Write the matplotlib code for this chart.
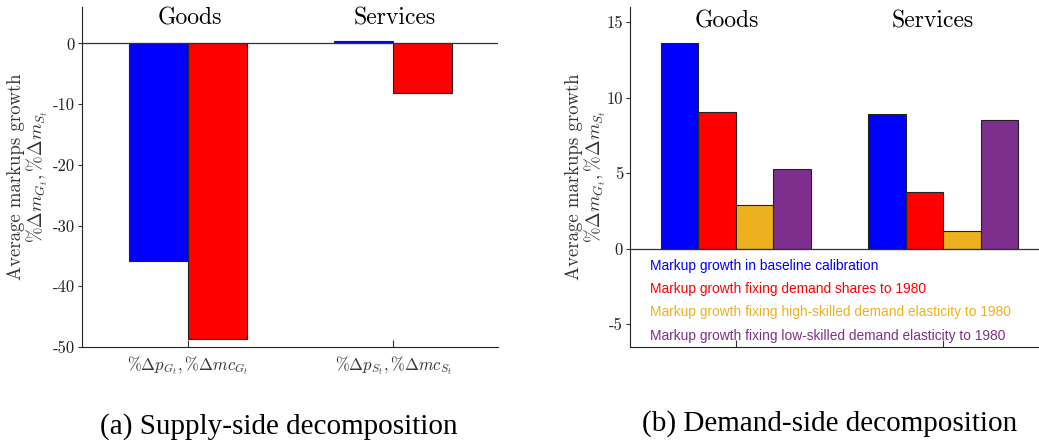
import numpy as np
import matplotlib
matplotlib.use('Agg')
from matplotlib import pyplot as plt

plt.rcParams['font.family'] = 'cmr10'
plt.rcParams['mathtext.fontset'] = 'cm'
plt.rcParams['axes.unicode_minus'] = False
plt.rcParams['axes.formatter.use_mathtext'] = False

# panel (a): supply side
sectors = ['Goods', 'Services']
supply_ticks = [r'$\%\Delta p_{G_t}, \%\Delta mc_{G_t}$', r'$\%\Delta p_{S_t}, \%\Delta mc_{S_t}$']
supply_price = [-35.9, 0.4]
supply_mc = [-48.6, -8.2]

# panel (b): demand side
demand_labels = ['Markup growth in baseline calibration',
                 'Markup growth fixing demand shares to 1980',
                 'Markup growth fixing high-skilled demand elasticity to 1980',
                 'Markup growth fixing low-skilled demand elasticity to 1980']
baseline = [13.6, 8.93]
fix_shares = [9.08, 3.73]
fix_high = [2.87, 1.17]
fix_low = [5.28, 8.53]

colors = ['#0000ff', '#ff0000', '#edb120', '#7e2f8e']

W, H = 1039, 445
fig = plt.figure(figsize=(W / 100, H / 100), dpi=100)

ax1 = fig.add_axes([82 / W, 1 - 347 / H, 416 / W, 340 / H])
ax2 = fig.add_axes([630 / W, 1 - 347 / H, 417 / W, 340 / H])

x = np.arange(1, len(sectors) + 1)
ylab = 'Average markups growth\n' + r'$\%\Delta m_{G_t}, \%\Delta m_{S_t}$'

# left
w1 = 0.288
ax1.bar(x - w1 / 2, supply_price, w1, color=colors[0], edgecolor='#222222', linewidth=0.8, zorder=3)
ax1.bar(x + w1 / 2, supply_mc, w1, color=colors[1], edgecolor='#222222', linewidth=0.8, zorder=3)
ax1.set_xlim(0.483, 2.512)
ax1.set_ylim(-50, 6)
ax1.set_yticks([0, -10, -20, -30, -40, -50])
ax1.set_xticks(x)
ax1.set_xticklabels(supply_ticks, fontsize=12, color='#333333')
for t, xx in zip(sectors, x):
    ax1.text(xx + 0.01, 0.965, t, transform=ax1.get_xaxis_transform(), ha='center', va='center', fontsize=17)
ax1.set_ylabel(ylab, fontsize=13.5, color='#333333', linespacing=0.95)
ax1.yaxis.set_label_coords(-0.077, 0.5)

# right
w2 = 0.181
series = [baseline, fix_shares, fix_high, fix_low]
for i, (vals, c, lab) in enumerate(zip(series, colors, demand_labels)):
    ax2.bar(x + (i - 1.5) * w2, vals, w2, color=c, edgecolor='#222222', linewidth=0.8, label=lab, zorder=3)
ax2.set_xlim(0.489, 2.5)
ax2.set_ylim(-6.5, 16)
ax2.set_yticks([15, 10, 5, 0, -5])
ax2.set_xticks(x)
ax2.set_xticklabels([])
for t, xx in zip(sectors, [0.957, 1.947]):
    ax2.text(xx, 0.958, t, transform=ax2.get_xaxis_transform(), ha='center', va='center', fontsize=17)
ax2.set_ylabel(ylab, fontsize=13.5, color='#333333', linespacing=0.95)
ax2.yaxis.set_label_coords(-0.053, 0.5)

leg = ax2.legend(loc='upper left', bbox_to_anchor=(0.035, 0.275), frameon=False,
                 handlelength=0, handletextpad=0, labelspacing=0.67, borderaxespad=0,
                 prop={'family': 'Liberation Sans', 'size': 9.9})
for h in leg.legend_handles:
    h.set_visible(False)
for t, c in zip(leg.get_texts(), colors):
    t.set_color(c)

for ax in (ax1, ax2):
    ax.axhline(0, color='#333333', linewidth=0.9, zorder=4)
    ax.spines['top'].set_visible(False)
    ax.spines['right'].set_visible(False)
    ax.spines['left'].set_color('#222222')
    ax.spines['bottom'].set_color('#222222')
    ax.tick_params(axis='x', direction='in', length=5, pad=5, color='#333333')
    ax.tick_params(axis='y', direction='out', length=3, pad=2, labelsize=12, color='#333333', labelcolor='#222222')

fig.text(279 / W, 1 - 427 / H, '(a) Supply-side decomposition', ha='center', va='center',
         fontsize=21, family='Liberation Serif')
fig.text(830 / W, 1 - 424 / H, '(b) Demand-side decomposition', ha='center', va='center',
         fontsize=21, family='Liberation Serif')

fig.savefig('out.png', dpi=100)
